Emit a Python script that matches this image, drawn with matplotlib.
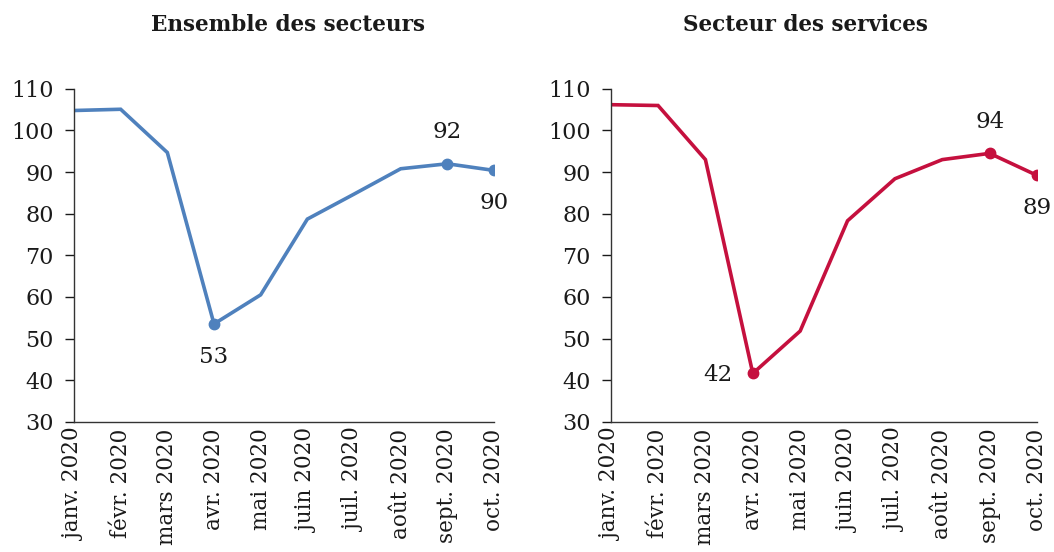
import matplotlib
matplotlib.use("Agg")
import matplotlib.pyplot as plt

# Données (indice)
months = ["janv. 2020", "févr. 2020", "mars 2020", "avr. 2020", "mai 2020",
          "juin 2020", "juil. 2020", "août 2020", "sept. 2020", "oct. 2020"]
ensemble = [104.8, 105.1, 94.7, 53.5, 60.5, 78.7, 84.7, 90.8, 92.0, 90.4]
services = [106.2, 106.0, 93.0, 41.6, 51.8, 78.3, 88.4, 93.0, 94.5, 89.2]

# (indice du point, texte, décalage en pixels)
labels_ensemble = [(3, "53", (0, -33)), (8, "92", (0, 32)), (9, "90", (0, -33))]
labels_services = [(3, "42", (-35, -2)), (8, "94", (0, 31)), (9, "89", (0, -33))]

blue = "#4F81BD"
red = "#C5103E"

plt.rcParams['font.family'] = ['DejaVu Serif']

fig = plt.figure(figsize=(10.54, 5.52), dpi=100)
ax1 = fig.add_axes([0.0702, 0.236, 0.3985, 0.603])
ax2 = fig.add_axes([0.5794, 0.236, 0.4045, 0.603])

panels = [
    (ax1, ensemble, blue, labels_ensemble, "Ensemble des secteurs", 0.273),
    (ax2, services, red, labels_services, "Secteur des services", 0.764),
]

for ax, vals, col, labs, title, tx in panels:
    x = list(range(len(months)))
    ax.plot(x, vals, color=col, lw=2.6, solid_joinstyle='miter')
    for i, txt, off in labs:
        ax.plot(x[i], vals[i], 'o', color=col, ms=7.5)
        ax.annotate(txt, (x[i], vals[i]), xytext=off, textcoords='offset pixels',
                    ha='center', va='center', fontsize=16.5, color='#1a1a1a')
    ax.set_xlim(0, 9)
    ax.set_ylim(30, 110)
    ax.set_yticks(range(30, 111, 10))
    ax.set_xticks(x)
    ax.set_xticklabels(months, rotation=90, fontsize=15.5, color='#1a1a1a')
    ax.tick_params(axis='x', length=0, pad=5)
    ax.tick_params(axis='y', length=6.5, width=1, direction='out', pad=8,
                   labelsize=16, colors='#1a1a1a')
    for s in ['top', 'right']:
        ax.spines[s].set_visible(False)
    for s in ['left', 'bottom']:
        ax.spines[s].set_color('#333333')
        ax.spines[s].set_linewidth(1)
    fig.text(tx, 0.955, title, ha='center', va='center', fontsize=15.5,
             fontweight='bold', color='#1a1a1a')

fig.savefig("out.png", dpi=100)
